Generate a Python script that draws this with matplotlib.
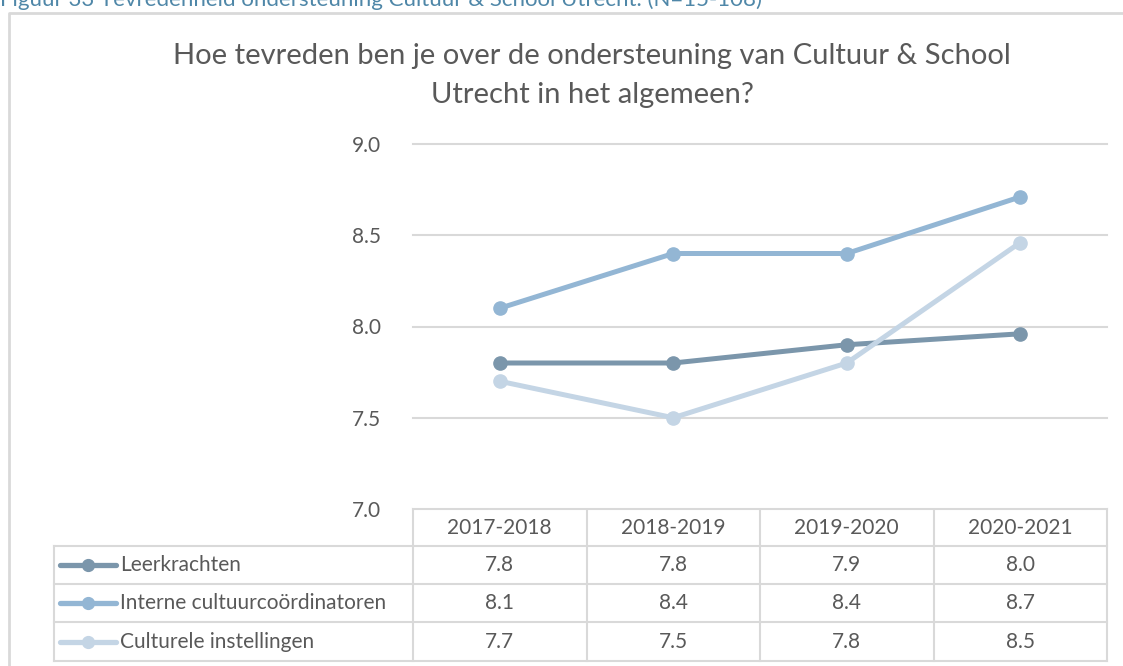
import numpy as np
import matplotlib.pyplot as plt

plt.rcParams['font.family'] = ['Lato', 'DejaVu Sans']

years = ['2017-2018', '2018-2019', '2019-2020', '2020-2021']
groups = ['Leerkrachten', 'Interne cultuurcoördinatoren', 'Culturele instellingen']
leerkrachten = [7.8, 7.8, 7.9, 7.96]
interne = [8.1, 8.4, 8.4, 8.71]
culturele = [7.7, 7.5, 7.8, 8.46]
colors = ['#7b96ab', '#93b6d4', '#c4d5e5']
yticks = [7.0, 7.5, 8.0, 8.5, 9.0]

title = 'Hoe tevreden ben je over de ondersteuning van Cultuur & School\nUtrecht in het algemeen?'
caption = 'Figuur 33 Tevredenheid ondersteuning Cultuur & School Utrecht. (N=15-108)'

txt = '#595959'
grid = '#d9d9d9'

W, H = 1123, 666
fig = plt.figure(figsize=(W / 100, H / 100), dpi=100)

# plot area
ax = fig.add_axes([413 / W, 1 - 509 / H, (1107 - 413) / W, (509 - 144) / H])
x = np.arange(len(years))
series = [leerkrachten, interne, culturele]
for vals, c in zip(series, colors):
    ax.plot(x, vals, color=c, lw=3.6, marker='o', ms=9.5, zorder=3, clip_on=False)
ax.set_xlim(-0.5, len(years) - 0.5)
ax.set_ylim(7, 9)
ax.set_yticks(yticks)
ax.set_yticklabels([f'{t:.1f}' for t in yticks])
ax.tick_params(axis='y', length=0, pad=23, labelsize=15, labelcolor=txt)
ax.set_xticks([])
for s in ax.spines.values():
    s.set_visible(False)
for t in yticks:
    ax.axhline(t, color=grid, lw=1.5, zorder=1, clip_on=False)

# overlay in pixel coords for table, frame and titles
ov = fig.add_axes([0, 0, 1, 1], zorder=-1)
ov.set_xlim(0, W)
ov.set_ylim(H, 0)
ov.axis('off')

edges = [ax.transData.transform((i - 0.5, 7))[0] for i in range(len(years) + 1)]
centers = [ax.transData.transform((i, 7))[0] for i in range(len(years))]
rows = [509, 546, 584, 622, 661]
left = 54

for r in rows[1:]:
    ov.plot([left, edges[-1]], [r, r], color=grid, lw=1.5)
ov.plot([left, left], [rows[1], rows[-1]], color=grid, lw=1.5)
for e in edges:
    ov.plot([e, e], [rows[0], rows[-1]], color=grid, lw=1.5)

for cx, yr in zip(centers, years):
    ov.text(cx, (rows[0] + rows[1]) / 2, yr, ha='center', va='center', fontsize=15, color=txt)

for k, (name, vals, c) in enumerate(zip(groups, series, colors)):
    ym = (rows[k + 1] + rows[k + 2]) / 2
    ov.plot([60, 116], [ym, ym], color=c, lw=3.8, solid_capstyle='round')
    ov.plot([88], [ym], 'o', color=c, ms=8.5)
    ov.text(120, ym, name, ha='left', va='center', fontsize=15, color=txt)
    for cx, v in zip(centers, vals):
        ov.text(cx, ym, f'{v:.1f}', ha='center', va='center', fontsize=15, color=txt)

# outer frame
ov.plot([9, 9, W], [H, 13, 13], color=grid, lw=2)

ov.text(592, 43, title, ha='center', va='top', fontsize=21, color=txt, linespacing=1.6)
ov.text(0, 6, caption, ha='left', va='baseline', fontsize=16, color='#4f87a8')

fig.savefig('out.png', dpi=100)
